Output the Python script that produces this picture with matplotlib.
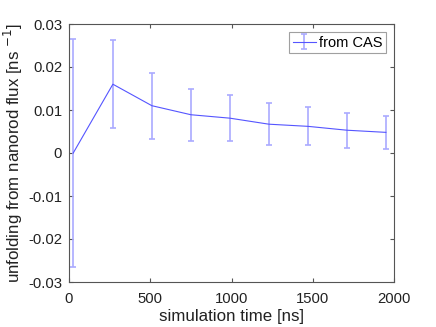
import matplotlib
matplotlib.use("Agg")
import matplotlib.pyplot as plt

plt.rcParams['font.family'] = ['Liberation Sans', 'DejaVu Sans']
plt.rcParams['font.size'] = 10.7

# data
sim_time = [26, 270, 510, 750, 990, 1230, 1470, 1710, 1950]
flux = [0.0, 0.0160, 0.0110, 0.0089, 0.0081, 0.0067, 0.0062, 0.0053, 0.0048]
flux_err = [0.0265, 0.0103, 0.0077, 0.0060, 0.0053, 0.0049, 0.0044, 0.0041, 0.0039]

fig = plt.figure(figsize=(4.36, 3.27), dpi=100)
ax = fig.add_axes([69 / 436, 1 - 282 / 327, 325 / 436, 258 / 327])

line, caps, bars = ax.errorbar(sim_time, flux, yerr=flux_err, color='#5555ff', lw=0.8,
                               ecolor='#aaaaff', elinewidth=1.2, capsize=2.5,
                               capthick=1.2, label='from CAS')
for c in caps:
    c.set_color('#3333ee')

ax.set_xlim(0, 2000)
ax.set_ylim(-0.03, 0.03)
ax.set_xticks([0, 500, 1000, 1500, 2000])
ax.set_yticks([-0.03, -0.02, -0.01, 0, 0.01, 0.02, 0.03])
ax.set_yticklabels(['-0.03', '-0.02', '-0.01', '0', '0.01', '0.02', '0.03'])
ax.tick_params(direction='in', top=True, right=True, length=3, color='#555555',
               labelcolor='#222222')
ax.tick_params(axis='x', pad=7)
ax.tick_params(axis='y', pad=5)
for s in ax.spines.values():
    s.set_color('#555555')
    s.set_linewidth(0.8)

ax.set_xlabel('simulation time [ns]', color='#222222', fontsize=12.2, labelpad=2)
ax.set_ylabel('unfolding from nanorod flux [ns $^{-1}$]', color='#222222',
              fontsize=12.2, labelpad=2)

leg = ax.legend(loc='upper right', fancybox=False, edgecolor='#888888',
                fontsize=10.5, borderpad=0.25, handlelength=1.6, handletextpad=0.2,
                borderaxespad=0.55)
leg.get_frame().set_linewidth(0.8)

fig.savefig('out.png', dpi=100)
